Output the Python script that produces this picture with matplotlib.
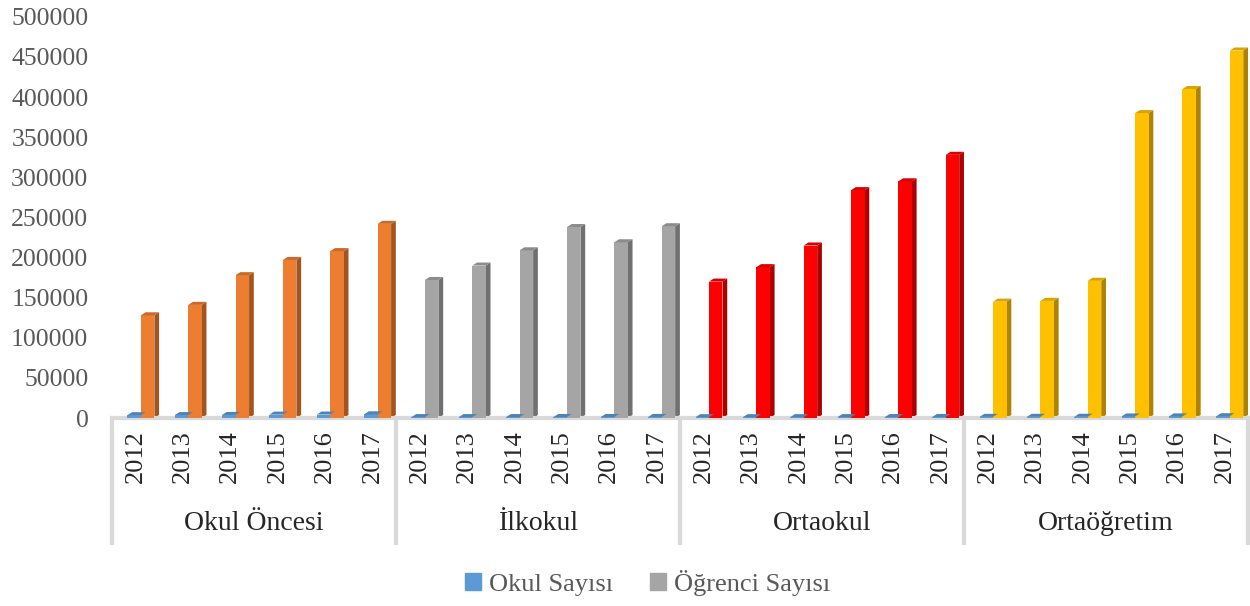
import numpy as np
import matplotlib.pyplot as plt
from matplotlib.patches import Polygon, Patch
from matplotlib.transforms import blended_transform_factory

plt.rcParams['font.family'] = ['Liberation Serif', 'DejaVu Serif']

# Data
groups = ['Okul Öncesi', 'İlkokul', 'Ortaokul', 'Ortaöğretim']
years = ['2012', '2013', '2014', '2015', '2016', '2017']
okul = [3500, 3600, 3800, 4200, 4300, 4600,
        1100, 1100, 1150, 1200, 1250, 1300,
        1000, 1000, 1050, 1100, 1150, 1200,
        1400, 1450, 1500, 1900, 2000, 2200]
ogrenci = [128000, 141000, 178000, 197000, 208000, 242000,
           172000, 190000, 209000, 238000, 219000, 239000,
           170000, 188000, 215000, 284000, 295000, 328000,
           145000, 146000, 171000, 380000, 410000, 458000]
group_colors = ['#ED7D31', '#A5A5A5', '#FF0000', '#FFC000']
blue = '#5B9BD5'

def shade(c, f):
    r, g, b = plt.matplotlib.colors.to_rgb(c)
    return (r * f, g * f, b * f)

fig = plt.figure(figsize=(12.5, 6.06), dpi=100)
ax = fig.add_axes([0.0896, 0.3102, 0.909, 0.662])

n = len(okul)
x = np.arange(n)
w = 0.285
shift = 0.11   # 3D perspective pushes the pair to the right
dx, dy = 0.1, 3800

def bar3d(xc, h, color):
    ax.bar(xc, h, width=w, color=color, zorder=3)
    side = Polygon([(xc + w/2, 0), (xc + w/2 + dx, dy), (xc + w/2 + dx, h + dy), (xc + w/2, h)],
                   closed=True, facecolor=shade(color, 0.68), edgecolor='none', zorder=2)
    top = Polygon([(xc - w/2, h), (xc - w/2 + dx, h + dy), (xc + w/2 + dx, h + dy), (xc + w/2, h)],
                  closed=True, facecolor=shade(color, 0.85), edgecolor='none', zorder=4)
    ax.add_patch(side)
    ax.add_patch(top)

for i in range(n):
    col = group_colors[i // len(years)]
    bar3d(x[i] + shift - w/2, okul[i], blue)
    bar3d(x[i] + shift + w/2, ogrenci[i], col)

ax.set_xlim(-0.5, n - 0.5)
ax.set_ylim(0, 500000)
ax.set_yticks(np.arange(0, 500001, 50000))
ax.set_yticklabels([str(v) for v in range(0, 500001, 50000)], fontsize=18.5, color='#595959')
ax.set_xticks(x)
ax.set_xticklabels(years * len(groups), rotation=90, fontsize=19, color='#262626')
ax.tick_params(axis='both', length=0)
ax.tick_params(axis='x', pad=9)
ax.tick_params(axis='y', pad=17)

for s in ['left', 'right', 'top']:
    ax.spines[s].set_visible(False)
ax.spines['bottom'].set_color('#D9D9D9')
ax.spines['bottom'].set_linewidth(3)

trans = blended_transform_factory(ax.transData, ax.transAxes)
for k in range(len(groups) + 1):
    xs = k * len(years) - 0.5
    ax.plot([xs, xs], [0, -0.312], transform=trans, color='#D9D9D9', lw=3, clip_on=False)
for k, g in enumerate(groups):
    xc = k * len(years) + (len(years) - 1) / 2
    ax.text(xc, -0.262, g, transform=trans, ha='center', va='center', fontsize=20, color='#262626')

handles = [Patch(color=blue, label='Okul Sayısı'), Patch(color='#A5A5A5', label='Öğrenci Sayısı')]
fig.legend(handles=handles, loc='center', bbox_to_anchor=(0.518, 0.038), ncol=2, frameon=False,
           fontsize=19, labelcolor='#595959', handlelength=0.6, handleheight=0.6,
           handletextpad=0.3, columnspacing=1.4)

fig.savefig('out.png', dpi=100)
